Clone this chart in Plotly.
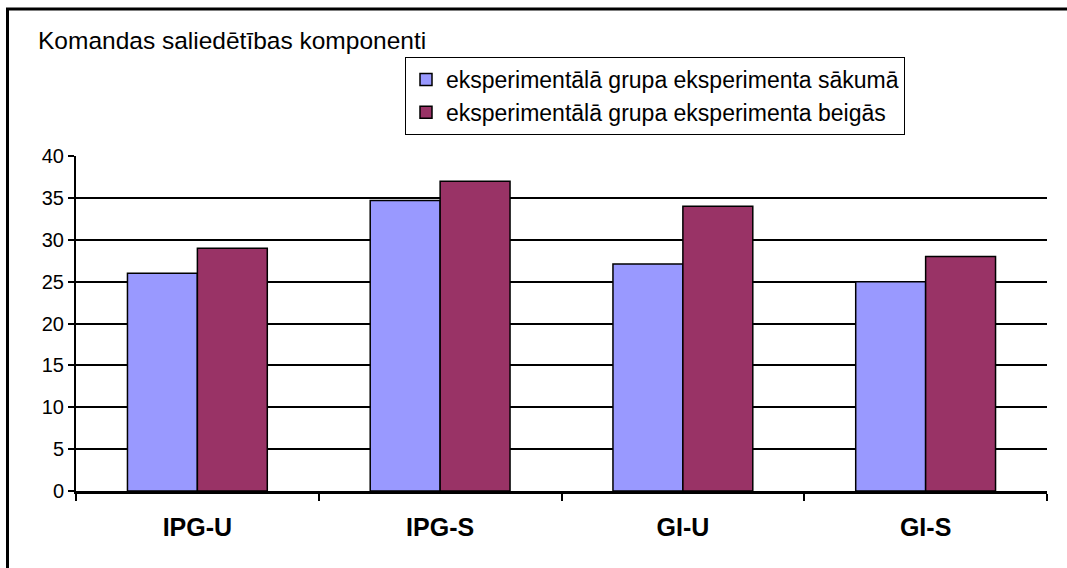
import plotly.graph_objects as go

categories = ["IPG-U", "IPG-S", "GI-U", "GI-S"]
start_values = [26, 34.7, 27.1, 25]
end_values = [29, 37, 34, 28]
series_names = ["eksperimentālā grupa eksperimenta sākumā",
                "eksperimentālā grupa eksperimenta beigās"]
y_ticks = [0, 5, 10, 15, 20, 25, 30, 35, 40]

W, H = 1067, 568
L, R, T, B = 76, 20, 156, 77
pw, ph = W - L - R, H - T - B

def px_x(x):
    return (x - L) / pw

def px_y(y):
    return (H - B - y) / ph

FONT = "Arial, Liberation Sans, sans-serif"

fig = go.Figure()
fig.add_trace(go.Bar(x=categories, y=start_values, name=series_names[0],
                     marker=dict(color="#9999FF", line=dict(color="black", width=1.5))))
fig.add_trace(go.Bar(x=categories, y=end_values, name=series_names[1],
                     marker=dict(color="#993366", line=dict(color="black", width=1.5))))

fig.update_layout(
    width=W, height=H,
    margin=dict(l=L, r=R, t=T, b=B),
    paper_bgcolor="white", plot_bgcolor="white",
    barmode="group", bargap=0.424, bargroupgap=0,
    font=dict(family=FONT, color="black", size=18),
    legend=dict(x=px_x(405), y=px_y(57), xanchor="left", yanchor="top",
                bordercolor="black", borderwidth=1, bgcolor="white",
                font=dict(size=23), traceorder="normal", itemwidth=30),
    showlegend=True,
)

fig.update_yaxes(range=[0, 40], tickvals=y_ticks, showgrid=True,
                 gridcolor="black", gridwidth=1.5, showline=True,
                 linecolor="black", linewidth=2, ticks="outside",
                 ticklen=6, tickcolor="black", tickwidth=1.5,
                 tickfont=dict(size=20), zeroline=False)
fig.update_xaxes(showline=True, linecolor="black", linewidth=2.5,
                 ticks="outside", tickson="boundaries", ticklen=7,
                 tickcolor="black", tickwidth=1.5, ticklabelstandoff=12,
                 ticktext=["<b>%s</b>" % c for c in categories], tickvals=categories,
                 tickfont=dict(size=25, family=FONT))

fig.add_annotation(text="Komandas saliedētības komponenti", xref="paper", yref="paper",
                   x=px_x(36), y=px_y(41), xanchor="left", yanchor="middle",
                   showarrow=False, font=dict(size=24.5, family=FONT))

fig.add_shape(type="rect", xref="paper", yref="paper",
              x0=px_x(7.5), y0=px_y(H + 20), x1=px_x(W + 20), y1=px_y(9),
              line=dict(color="black", width=3), layer="below")

fig.write_html("out.html", config={"displayModeBar": False},
               post_script="document.body.style.margin='0';")
